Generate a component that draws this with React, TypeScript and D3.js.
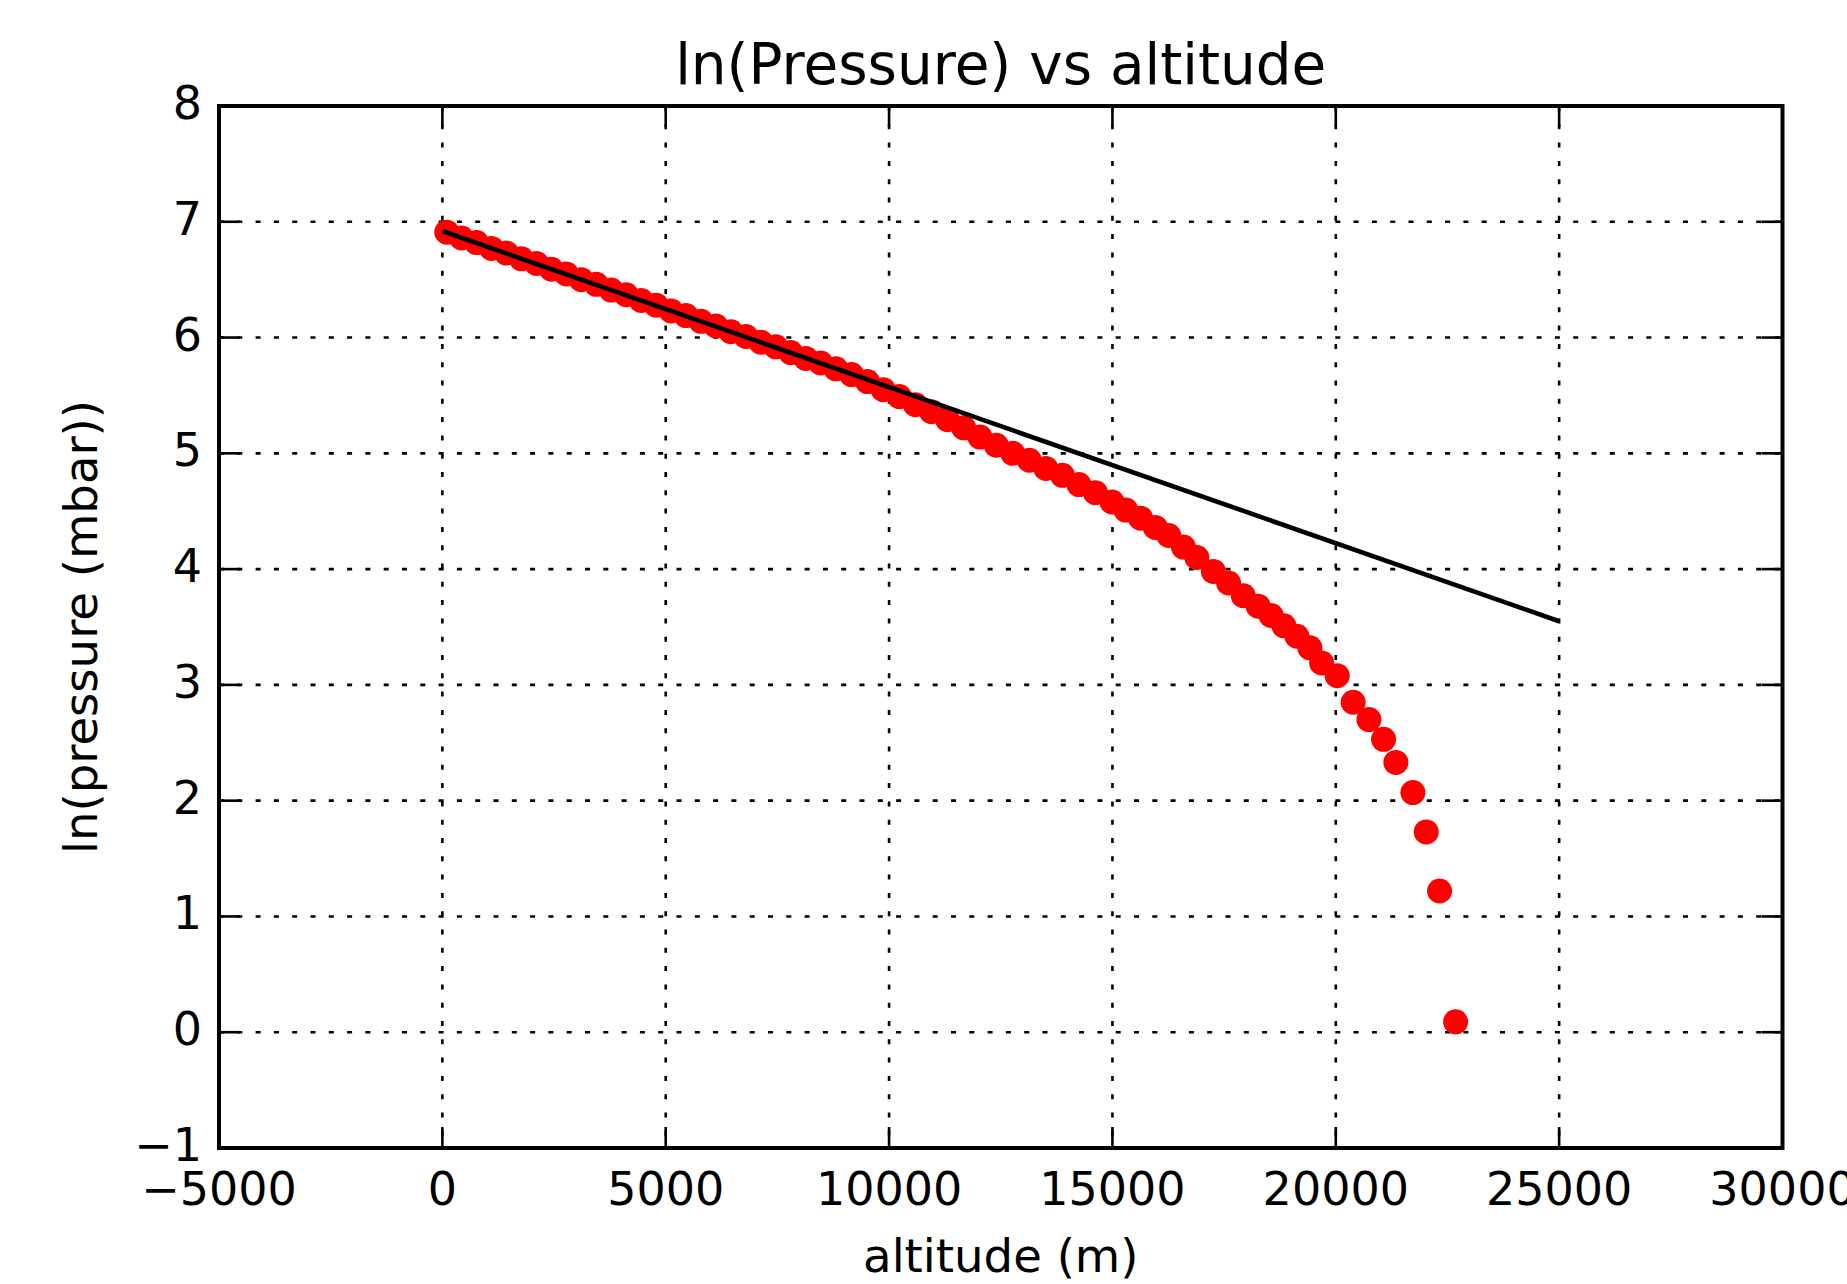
import React from 'react';
import * as d3 from 'd3';

const width = 1847;
const height = 1284;

// plot box
const left = 219;
const right = 1782.5;
const top = 106;
const bottom = 1148;

const altitude = [
  100, 430, 765, 1100, 1435, 1770, 2105, 2440, 2775, 3110, 3445, 3780, 4115,
  4450, 4785, 5120, 5455, 5790, 6125, 6460, 6795, 7130, 7465, 7800, 8135, 8470,
  8810, 9160, 9515, 9870, 10230, 10590, 10950, 11310, 11670, 12035, 12400,
  12770, 13140, 13510, 13880, 14250, 14620, 14990, 15300, 15630, 15960, 16260,
  16590, 16890, 17260, 17600, 17930, 18263, 18550, 18840, 19130, 19420, 19683,
  20031, 20389, 20742, 21070, 21345, 21726, 22024, 22323, 22682,
];

const lnPressure = [
  6.91, 6.86, 6.82, 6.77, 6.73, 6.68, 6.64, 6.59, 6.55, 6.5, 6.46, 6.41, 6.37,
  6.32, 6.28, 6.23, 6.19, 6.14, 6.1, 6.05, 6.01, 5.96, 5.92, 5.87, 5.82, 5.78,
  5.73, 5.68, 5.62, 5.55, 5.49, 5.42, 5.36, 5.29, 5.22, 5.14, 5.07, 5.0, 4.94,
  4.87, 4.81, 4.73, 4.66, 4.58, 4.51, 4.44, 4.36, 4.29, 4.19, 4.1, 3.98, 3.88,
  3.77, 3.68, 3.6, 3.51, 3.42, 3.32, 3.19, 3.08, 2.85, 2.7, 2.53, 2.33, 2.07,
  1.73, 1.22, 0.09,
];

// straight fit line
const fitAltitude = [0, 25000];
const fitLnPressure = [6.92, 3.55];

const xTicks = [-5000, 0, 5000, 10000, 15000, 20000, 25000, 30000];
const yTicks = [-1, 0, 1, 2, 3, 4, 5, 6, 7, 8];

const font = 'DejaVu Sans, sans-serif';
const tickLen = 21;

const x = d3.scaleLinear().domain([-5000, 30000]).range([left, right]);
const y = d3.scaleLinear().domain([-1, 8]).range([bottom, top]);
const fmt = d3.format('d');

const fitLine = d3
  .line<number>()
  .x((d) => x(d))
  .y((d, i) => y(fitLnPressure[i]));

const App = () => {
  return (
    <svg
      width={width}
      height={height}
      style={{ position: 'absolute', left: 0, top: 0, background: '#fff' }}
    >
      <rect width={width} height={height} fill="#fff" />

      {/* grid */}
      <g stroke="#000" strokeWidth={2.6} strokeDasharray="5,13.3">
        {xTicks.map((t) => (
          <line key={'gx' + t} x1={x(t)} x2={x(t)} y1={top} y2={bottom} />
        ))}
        {yTicks.map((t) => (
          <line key={'gy' + t} x1={left} x2={right} y1={y(t)} y2={y(t)} />
        ))}
      </g>

      {/* points */}
      <g fill="#ff0000">
        {altitude.map((a, i) => (
          <circle key={i} cx={x(a)} cy={y(lnPressure[i])} r={12.5} />
        ))}
      </g>

      <path d={fitLine(fitAltitude) || ''} fill="none" stroke="#000" strokeWidth={4.6} />

      {/* ticks, inward on all sides */}
      <g stroke="#000" strokeWidth={2.6}>
        {xTicks.map((t) => (
          <g key={'tx' + t}>
            <line x1={x(t)} x2={x(t)} y1={bottom} y2={bottom - tickLen} />
            <line x1={x(t)} x2={x(t)} y1={top} y2={top + tickLen} />
          </g>
        ))}
        {yTicks.map((t) => (
          <g key={'ty' + t}>
            <line x1={left} x2={left + tickLen} y1={y(t)} y2={y(t)} />
            <line x1={right} x2={right - tickLen} y1={y(t)} y2={y(t)} />
          </g>
        ))}
      </g>

      <rect
        x={left}
        y={top}
        width={right - left}
        height={bottom - top}
        fill="none"
        stroke="#000"
        strokeWidth={4}
      />

      {/* tick labels */}
      <g fontFamily={font} fontSize={46} fill="#000">
        {xTicks.map((t) => (
          <text key={'lx' + t} x={x(t)} y={bottom + 57} textAnchor="middle">
            {fmt(t)}
          </text>
        ))}
        {yTicks.map((t) => (
          <text key={'ly' + t} x={left - 17} y={y(t) + 13} textAnchor="end">
            {fmt(t)}
          </text>
        ))}
      </g>

      <text
        x={(left + right) / 2}
        y={84}
        textAnchor="middle"
        fontFamily={font}
        fontSize={56.4}
      >
        ln(Pressure) vs altitude
      </text>
      <text
        x={(left + right) / 2}
        y={1272}
        textAnchor="middle"
        fontFamily={font}
        fontSize={46.6}
      >
        altitude (m)
      </text>
      <text
        transform={`translate(97, ${(top + bottom) / 2}) rotate(-90)`}
        textAnchor="middle"
        fontFamily={font}
        fontSize={46.6}
      >
        ln(pressure (mbar))
      </text>
    </svg>
  );
};

export default App;
